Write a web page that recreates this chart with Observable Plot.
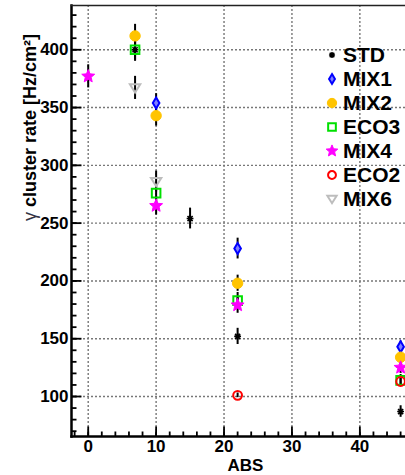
<!DOCTYPE html>
<html><head><meta charset="utf-8">
<script src="https://cdn.jsdelivr.net/npm/d3@7"></script>
<script src="https://cdn.jsdelivr.net/npm/@observablehq/plot@0.6"></script>
<style>
body{margin:0;background:#fff;}
#wrap{position:relative;width:405px;height:475px;font-family:"Liberation Sans",Arial,sans-serif;}
#legend{position:absolute;left:322px;top:43px;}
.row{display:flex;align-items:center;height:24px;font-weight:bold;font-size:21px;line-height:24px;color:#000;}
.row svg{width:20px;height:20px;margin-right:1px;flex:none;}
</style></head><body><div id="wrap"></div>
<script>
// ---- data ----
const seriesNames = ["STD", "MIX1", "MIX2", "ECO3", "MIX4", "ECO2", "MIX6"];
const absSTD  = [6.9, 15, 22, 46];   const rateSTD  = [400, 254, 152, 87];  const errSTD  = [10, 9, 7, 5];
const absMIX1 = [10, 22, 46];        const rateMIX1 = [354, 228, 143];      const errMIX1 = [8, 9, 5];
const absMIX2 = [6.9, 10, 22, 46];   const rateMIX2 = [412, 343, 198, 134]; const errMIX2 = [10, 9, 7, 5];
const absECO3 = [6.9, 10, 22, 46];   const rateECO3 = [400, 276, 183, 114]; const errECO3 = [9, 9, 7, 5];
const absMIX4 = [0, 10, 22, 46];     const rateMIX4 = [377, 265, 179, 125]; const errMIX4 = [10, 8, 7, 5];
const absECO2 = [22, 46];            const rateECO2 = [101, 113];           const errECO2 = [2, 4];
const absMIX6 = [6.9, 10];           const rateMIX6 = [367, 286];           const errMIX6 = [10, 9];
const xTicks = [0, 10, 20, 30, 40];
const xMinorTicks = d3.range(-2, 47, 2);
const yTicks = [100, 150, 200, 250, 300, 350, 400];
const yMinorTicks = d3.range(70, 440, 10);
const xLabel = "ABS";
const yLabel = "γ cluster rate [Hz/cm²]";

// ---- marker styles ----
function sym(fn){ return {draw(ctx, size){ fn(ctx, Math.sqrt(size/Math.PI)); }}; }
const asteriskSym = sym((c,r)=>{ const a=r*0.75; c.moveTo(-r,0);c.lineTo(r,0);c.moveTo(0,-r);c.lineTo(0,r);c.moveTo(-a,-a);c.lineTo(a,a);c.moveTo(-a,a);c.lineTo(a,-a); });
const diamondSym = sym((c,r)=>{ const w=r*0.6; c.moveTo(0,-r);c.lineTo(w,0);c.lineTo(0,r);c.lineTo(-w,0);c.closePath(); });
const squareSym = sym((c,r)=>{ c.rect(-r,-r,2*r,2*r); });
const circleSym = sym((c,r)=>{ c.moveTo(r,0); c.arc(0,0,r,0,2*Math.PI); });
const starSym = sym((c,r)=>{ const ri=r*0.45; for(let i=0;i<10;i++){ const rr=i%2?ri:r; const t=-Math.PI/2+i*Math.PI/5; const x=rr*Math.cos(t), y=rr*Math.sin(t); i?c.lineTo(x,y):c.moveTo(x,y);} c.closePath(); });
const triDownSym = sym((c,r)=>{ c.moveTo(-r,-r*0.7);c.lineTo(r,-r*0.7);c.lineTo(0,r*0.9);c.closePath(); });
// tick glyphs: inward-pointing segments of fixed pixel length
const tickRight = len => ({draw(c){ c.moveTo(0,0); c.lineTo(len,0); }});
const tickUp = len => ({draw(c){ c.moveTo(0,0); c.lineTo(0,-len); }});

const styles = {
  STD:  {symbol: asteriskSym, r: 3.4, fill: "none", stroke: "#000", sw: 1.6},
  MIX1: {symbol: diamondSym,  r: 5.5, fill: "#8080ff", stroke: "#0000ff", sw: 2},
  MIX2: {symbol: circleSym,   r: 5.2, fill: "#ffc400", stroke: "#ffc400", sw: 1},
  ECO3: {symbol: squareSym,   r: 4.3, fill: "none", stroke: "#00e000", sw: 2},
  MIX4: {symbol: starSym,     r: 6.8, fill: "#ff00ff", stroke: "#ff00ff", sw: 1},
  ECO2: {symbol: circleSym,   r: 4.4, fill: "none", stroke: "#ff0000", sw: 2},
  MIX6: {symbol: triDownSym,  r: 5.2, fill: "none", stroke: "#bdbdbd", sw: 2}
};

const src = {
  STD: [absSTD, rateSTD, errSTD], MIX1: [absMIX1, rateMIX1, errMIX1], MIX2: [absMIX2, rateMIX2, errMIX2],
  ECO3: [absECO3, rateECO3, errECO3], MIX4: [absMIX4, rateMIX4, errMIX4], ECO2: [absECO2, rateECO2, errECO2],
  MIX6: [absMIX6, rateMIX6, errMIX6]
};
const rows = [];
for (const s of seriesNames) { const [a, v, e] = src[s]; a.forEach((x, i) => rows.push({series: s, abs: x, rate: v[i], err: e[i]})); }

const font = {fontFamily: "Liberation Sans, Arial, sans-serif", fontWeight: "bold"};
const dotMarks = seriesNames.map(s => Plot.dot(rows.filter(d => d.series === s), {
  x: "abs", y: "rate", symbol: styles[s].symbol, r: styles[s].r,
  fill: styles[s].fill, stroke: styles[s].stroke, strokeWidth: styles[s].sw
}));

const chart = Plot.plot({
  width: 405, height: 475,
  marginLeft: 71, marginRight: 0, marginTop: 5, marginBottom: 39,
  style: {fontFamily: font.fontFamily, background: "#fff", overflow: "visible"},
  x: {domain: [-2.46, 46.72], axis: null},
  y: {domain: [65.4, 438.3], axis: null},
  marks: [
    Plot.gridX(xTicks, {stroke: "#777", strokeOpacity: 1, strokeWidth: 1.4, strokeDasharray: "2,2"}),
    Plot.gridY(yTicks, {stroke: "#777", strokeOpacity: 1, strokeWidth: 1.4, strokeDasharray: "2,2"}),
    // inward ticks (minor and major)
    Plot.dot(yMinorTicks, {y: d => d, frameAnchor: "left", symbol: tickRight(5), r: 3, fill: "none", stroke: "#000", strokeWidth: 1.8}),
    Plot.dot(yTicks, {y: d => d, frameAnchor: "left", symbol: tickRight(10), r: 3, fill: "none", stroke: "#000", strokeWidth: 1.8}),
    Plot.dot(xMinorTicks, {x: d => d, frameAnchor: "bottom", symbol: tickUp(5), r: 3, fill: "none", stroke: "#000", strokeWidth: 1.8}),
    Plot.dot(xTicks, {x: d => d, frameAnchor: "bottom", symbol: tickUp(10), r: 3, fill: "none", stroke: "#000", strokeWidth: 1.8}),
    Plot.axisY(yTicks, {anchor: "left", tickSize: 0, tickPadding: 3, fontSize: 17, fontWeight: "bold", label: null}),
    Plot.axisX(xTicks, {anchor: "bottom", tickSize: 0, tickPadding: 3, fontSize: 17, fontWeight: "bold", label: null}),
    Plot.frame({anchor: "left", stroke: "#000", strokeWidth: 2.5}),
    Plot.frame({anchor: "bottom", stroke: "#000", strokeWidth: 2.5}),
    Plot.frame({anchor: "top", stroke: "#222", strokeWidth: 1.5}),
    Plot.ruleX(rows, {x: "abs", y1: d => d.rate - d.err, y2: d => d.rate + d.err, stroke: "#000", strokeWidth: 2}),
    ...dotMarks,
    Plot.text([xLabel], {frameAnchor: "bottom", dx: 7, dy: 29, fontSize: 17, fontWeight: "bold", lineAnchor: "middle"}),
    Plot.text([yLabel], {frameAnchor: "left", rotate: -90, dx: -41, fontSize: 18, fontWeight: "bold", lineAnchor: "middle", className: "ylab"})
  ]
});
const wrap = document.getElementById("wrap");
wrap.appendChild(chart);

// style the gamma differently (thin Greek symbol)
const yl = chart.querySelector(".ylab text");
if (yl) {
  const t = yl.textContent;
  yl.textContent = "";
  const g = document.createElementNS("http://www.w3.org/2000/svg", "tspan");
  g.textContent = t.slice(0, 1); g.setAttribute("font-weight", "normal"); g.setAttribute("fill", "#334");
  const rest = document.createElementNS("http://www.w3.org/2000/svg", "tspan");
  rest.textContent = t.slice(1);
  yl.appendChild(g); yl.appendChild(rest);
}

// legend
const legend = document.createElement("div");
legend.id = "legend";
for (const s of seriesNames) {
  const st = styles[s];
  const row = document.createElement("div"); row.className = "row";
  const svg = d3.create("svg").attr("viewBox", "-10 -10 20 20");
  const p = d3.path(); st.symbol.draw(p, Math.PI * st.r * st.r * 0.8);
  svg.append("path").attr("d", p.toString()).attr("fill", st.fill).attr("stroke", st.stroke).attr("stroke-width", st.sw);
  row.appendChild(svg.node());
  const label = document.createElement("span"); label.textContent = s;
  row.appendChild(label);
  legend.appendChild(row);
}
wrap.appendChild(legend);
</script>
</body></html>
